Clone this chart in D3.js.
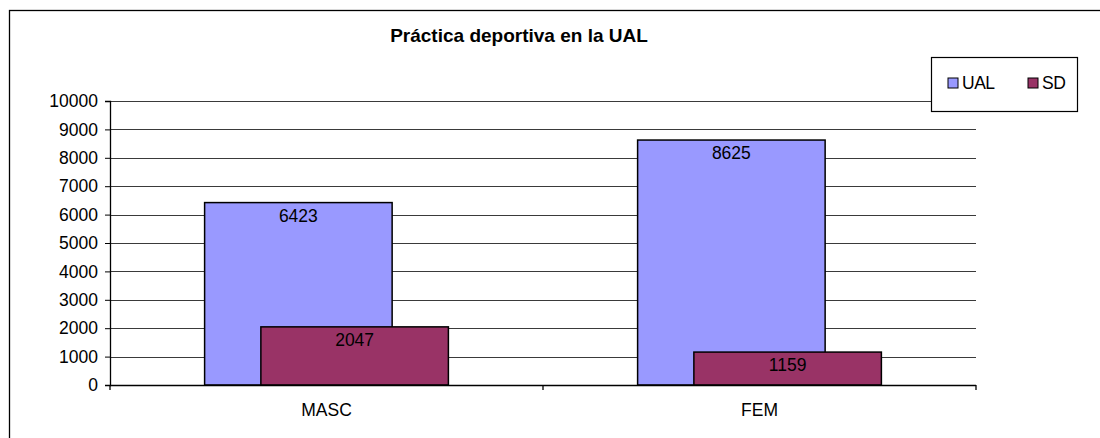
<!DOCTYPE html>
<html>
<head>
<meta charset="utf-8">
<title>Práctica deportiva en la UAL</title>
<script src="https://cdn.jsdelivr.net/npm/d3@7"></script>
<style>
    body { margin: 0; background: #fff; }
    svg { display: block; font-family: "Liberation Sans", Arial, sans-serif; }
</style>
</head>
<body>
<div id="chart"></div>
<script>
    // data
    var categories = ['MASC', 'FEM'];
    var seriesNames = ['UAL', 'SD'];
    var ualValues = [6423, 8625];
    var sdValues = [2047, 1159];
    var yTicks = [0, 1000, 2000, 3000, 4000, 5000, 6000, 7000, 8000, 9000, 10000];
    var seriesColors = ['#9999ff', '#993366'];

    var width = 1100, height = 438;
    var plot = { left: 110, right: 976, top: 101, bottom: 385 };
    var overlap = 0.7;

    var svg = d3.select('#chart').append('svg')
        .attr('width', width)
        .attr('height', height);

    // outer frame (right and bottom edges fall outside the picture)
    svg.append('rect')
        .attr('x', 9.5).attr('y', 10.5)
        .attr('width', 1200).attr('height', 600)
        .attr('fill', 'none')
        .attr('stroke', '#000')
        .attr('stroke-width', 1.3);

    svg.append('text')
        .attr('x', 519).attr('y', 42)
        .attr('text-anchor', 'middle')
        .attr('font-size', '19px')
        .attr('font-weight', 'bold')
        .text('Práctica deportiva en la UAL');

    var x = d3.scaleBand()
        .domain(categories)
        .range([plot.left, plot.right])
        .paddingInner(0.437)
        .paddingOuter(0.2185);

    var y = d3.scaleLinear()
        .domain([0, 10000])
        .range([plot.bottom, plot.top]);

    // gridlines
    svg.append('g')
        .selectAll('line')
        .data(yTicks.filter(d => d > 0))
        .join('line')
        .attr('x1', plot.left).attr('x2', plot.right)
        .attr('y1', d => Math.round(y(d)) + 0.5)
        .attr('y2', d => Math.round(y(d)) + 0.5)
        .attr('stroke', '#3a3a3a')
        .attr('stroke-width', 1);

    var barW = x.bandwidth() / (2 - overlap);
    var shift = barW * (1 - overlap);
    var series = [ualValues, sdValues];

    series.forEach((vals, s) => {
        svg.append('g')
            .selectAll('rect')
            .data(vals)
            .join('rect')
            .attr('x', (d, i) => x(categories[i]) + s * shift)
            .attr('y', d => y(d))
            .attr('width', barW)
            .attr('height', d => y(0) - y(d))
            .attr('fill', seriesColors[s])
            .attr('stroke', '#000')
            .attr('stroke-width', 1.5);
    });

    // value labels inside top of bars
    series.forEach((vals, s) => {
        svg.append('g')
            .selectAll('text')
            .data(vals)
            .join('text')
            .attr('x', (d, i) => x(categories[i]) + s * shift + barW / 2)
            .attr('y', d => y(d) + 13)
            .attr('dy', '0.35em')
            .attr('text-anchor', 'middle')
            .attr('font-size', '17.5px')
            .attr('fill', '#000')
            .text(d => d);
    });

    // y axis
    var yAxis = svg.append('g')
        .attr('transform', `translate(${plot.left},0)`)
        .call(d3.axisLeft(y).tickValues(yTicks).tickSize(5).tickPadding(7).tickFormat(d3.format('d')));
    yAxis.select('.domain').attr('stroke', '#000').attr('stroke-width', 1.3);
    yAxis.selectAll('.tick line').attr('stroke', '#000');
    yAxis.selectAll('.tick text')
        .attr('font-size', '17.5px')
        .attr('font-family', '"Liberation Sans", Arial, sans-serif')
        .attr('fill', '#000');

    // category axis
    var xAxis = svg.append('g')
        .attr('transform', `translate(0,${plot.bottom})`)
        .call(d3.axisBottom(x).tickSize(0).tickPadding(19));
    xAxis.select('.domain').remove();
    xAxis.selectAll('.tick text')
        .attr('font-size', '17.5px')
        .attr('font-family', '"Liberation Sans", Arial, sans-serif')
        .attr('fill', '#000');

    svg.append('line')
        .attr('x1', plot.left).attr('x2', plot.right)
        .attr('y1', plot.bottom + 0.5).attr('y2', plot.bottom + 0.5)
        .attr('stroke', '#000').attr('stroke-width', 1.3);

    // separators between categories
    var step = x.step();
    var seps = d3.range(categories.length + 1).map(i => plot.left + i * step);
    svg.append('g')
        .selectAll('line')
        .data(seps)
        .join('line')
        .attr('x1', d => d).attr('x2', d => d)
        .attr('y1', plot.bottom).attr('y2', plot.bottom + 5)
        .attr('stroke', '#000').attr('stroke-width', 1.3);

    // legend
    var legend = svg.append('g').attr('transform', 'translate(931,57)');
    legend.append('rect')
        .attr('x', 0.5).attr('y', 0.5)
        .attr('width', 146).attr('height', 54)
        .attr('fill', '#fff')
        .attr('stroke', '#000')
        .attr('stroke-width', 1.2);

    var items = legend.selectAll('g.item')
        .data(seriesNames)
        .join('g')
        .attr('class', 'item')
        .attr('transform', (d, i) => `translate(${17 + i * 80},21)`);
    items.append('rect')
        .attr('width', 10).attr('height', 10)
        .attr('fill', (d, i) => seriesColors[i])
        .attr('stroke', '#000')
        .attr('stroke-width', 1);
    items.append('text')
        .attr('x', 14).attr('y', 5)
        .attr('dy', '0.36em')
        .attr('font-size', '17.5px')
        .attr('letter-spacing', '-0.5px')
        .text(d => d);
</script>
</body>
</html>
